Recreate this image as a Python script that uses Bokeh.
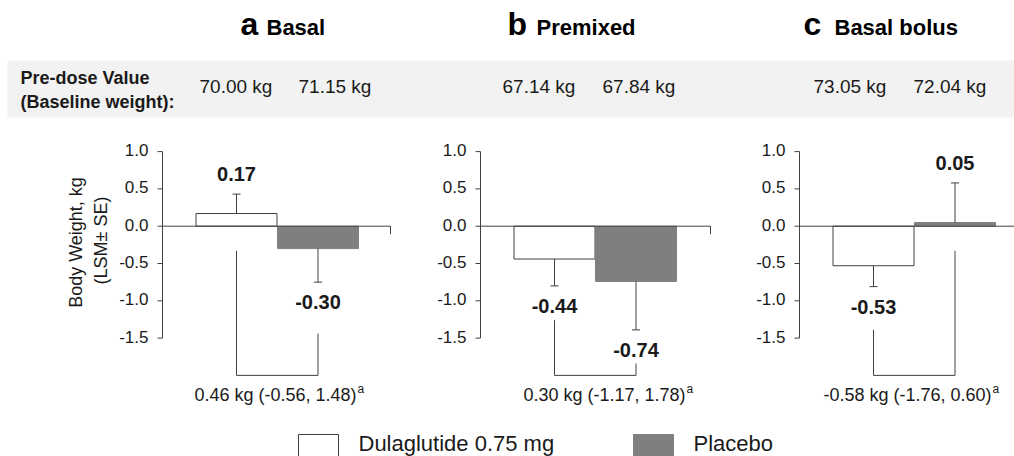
import numpy as np
from bokeh.plotting import figure
from bokeh.models import Range1d
from bokeh.core.properties import value
from bokeh.embed import file_html
from bokeh.resources import INLINE

# ---------------- data ----------------
panel_letters = ["a", "b", "c"]
panel_titles = ["Basal", "Premixed", "Basal bolus"]
group_names = ["Dulaglutide 0.75 mg", "Placebo"]
baseline_dula = ["70.00 kg", "67.14 kg", "73.05 kg"]
baseline_plac = ["71.15 kg", "67.84 kg", "72.04 kg"]
lsm_dula = [0.17, -0.44, -0.53]
lsm_plac = [-0.30, -0.74, 0.05]
se_dula = [0.26, 0.36, 0.28]
se_plac = [0.45, 0.65, 0.53]
diff_text = ["0.46 kg (-0.56, 1.48)", "0.30 kg (-1.17, 1.78)", "-0.58 kg (-1.76, 0.60)"]
y_ticks = [1.0, 0.5, 0.0, -0.5, -1.0, -1.5]
y_tick_labels = ["1.0", "0.5", "0.0", "-0.5", "-1.0", "-1.5"]
y_label_lines = ["Body Weight, kg", "(LSM\u00b1 SE)"]
band_label = ["Pre-dose Value", "(Baseline weight):"]

# ---------------- layout ----------------
W, H = 1014, 456
Y0_PIX = 225.7
PX_PER_KG = 74.6


def py(r):
    return (Y0_PIX - r) / PX_PER_KG


def mid(baseline, size):
    # vertical middle of a text whose alphabetic baseline is at pixel row `baseline`
    return py(baseline - 0.345 * size)


FONT = value("Liberation Sans")
TXT = "#1a1a1a"
AX = "#404040"
GRAY = "#7f7f7f"

axis_x = [162, 480, 799]
axis_end = [390, 710, 1014]
bar_off = [74, 155.5]
bar_w = 81
title_letter_x = [240, 507, 803]
title_word_x = [266, 536, 834]
base_x_dula = [199, 502, 813]
base_x_plac = [298, 602, 913]
bracket_top_dula = [-0.33, -1.26, -1.39]
bracket_top_plac = [-1.44, -1.84, -0.33]
bracket_bottom = -2.0
diff_right = [356, 685, 991]
label_gap = 0.27

p = figure(width=W, height=H, x_range=Range1d(0, W), y_range=Range1d(py(H), py(0)),
           output_backend="svg", toolbar_location=None, min_border=0,
           x_axis_location=None, y_axis_location=None)
p.grid.visible = False
p.outline_line_color = None
p.background_fill_color = "white"
p.border_fill_color = "white"

common = dict(text_font=FONT, text_baseline="middle")

# band
p.quad(left=[7], right=[W], top=[py(60)], bottom=[py(117)], fill_color="#f2f2f2", line_color=None)
p.text(x=[20, 20], y=[mid(83.5, 18), mid(107.5, 18)], text=band_label, text_font_size="18px",
       text_font_style="bold", text_color=TXT, text_align="left", **common)
p.text(x=base_x_dula + base_x_plac, y=[mid(92.5, 19)] * 6, text=baseline_dula + baseline_plac,
       text_font_size="19px", text_color=TXT, text_align="left", **common)

# titles
p.text(x=title_letter_x, y=[mid(35, 32)] * 3, text=panel_letters, text_font_size="32px",
       text_font_style="bold", text_color="black", text_align="left", **common)
p.text(x=title_word_x, y=[mid(35, 22)] * 3, text=panel_titles, text_font_size="22px",
       text_font_style="bold", text_color="black", text_align="left", **common)

# y-axis label (panel a)
p.text(x=[75, 100], y=[py(242), py(240)], text=y_label_lines, angle=np.pi / 2,
       text_font_size="18px", text_color=TXT, text_align="center", **common)

for i in range(3):
    ax = axis_x[i]
    # y axis
    p.segment(x0=[ax], y0=[min(y_ticks)], x1=[ax], y1=[max(y_ticks)], line_color=AX, line_width=1)
    p.segment(x0=[ax - 5] * len(y_ticks), y0=y_ticks, x1=[ax] * len(y_ticks), y1=y_ticks,
              line_color=AX, line_width=1)
    p.text(x=[ax - 14] * len(y_ticks), y=[t + 1.5 / PX_PER_KG for t in y_ticks], text=y_tick_labels,
           text_font_size="17px", text_color=TXT, text_align="right", **common)

    xd = ax + bar_off[0]
    xp = ax + bar_off[1]
    # bars
    p.vbar(x=[xd], top=[lsm_dula[i]], bottom=0, width=bar_w, fill_color="white", line_color=AX, line_width=1)
    p.vbar(x=[xp], top=[lsm_plac[i]], bottom=0, width=bar_w, fill_color=GRAY, line_color=GRAY, line_width=1)

    # zero line with end tick
    p.segment(x0=[ax, axis_end[i]], y0=[0, 0], x1=[axis_end[i], axis_end[i]], y1=[0, py(Y0_PIX + 8)],
              line_color=AX, line_width=1)

    # error bars (one-sided)
    for xc, v, se in ((xd, lsm_dula[i], se_dula[i]), (xp, lsm_plac[i], se_plac[i])):
        s = 1 if v >= 0 else -1
        end = v + s * se
        p.segment(x0=[xc, xc - 4], y0=[v, end], x1=[xc, xc + 4], y1=[end, end], line_color=AX, line_width=1)
        p.text(x=[xc], y=[end + s * label_gap], text=[f"{v:.2f}"], text_font_size="20px",
               text_font_style="bold", text_color=TXT, text_align="center", **common)

    # bracket
    p.segment(x0=[xd, xp, xd], y0=[bracket_top_dula[i], bracket_top_plac[i], bracket_bottom],
              x1=[xd, xp, xp], y1=[bracket_bottom, bracket_bottom, bracket_bottom],
              line_color=AX, line_width=1)
    p.text(x=[diff_right[i]], y=[mid(401, 18)], text=[diff_text[i]], text_font_size="18px",
           text_color=TXT, text_align="right", **common)
    p.text(x=[diff_right[i] + 1], y=[mid(393, 12)], text=["a"], text_font_size="12px",
           text_color=TXT, text_align="left", **common)

# legend
leg_box_x = [298, 633]
leg_text_x = [358, 693]
p.quad(left=[leg_box_x[0]], right=[leg_box_x[0] + 40], top=[py(434)], bottom=[py(458)],
       fill_color="white", line_color=AX, line_width=1)
p.quad(left=[leg_box_x[1]], right=[leg_box_x[1] + 40], top=[py(434)], bottom=[py(458)],
       fill_color=GRAY, line_color=GRAY, line_width=1)
p.text(x=leg_text_x, y=[mid(451, 22)] * 2, text=group_names, text_font_size="22px",
       text_color=TXT, text_align="left", **common)

open("out.html", "w").write(file_html(p, INLINE))
